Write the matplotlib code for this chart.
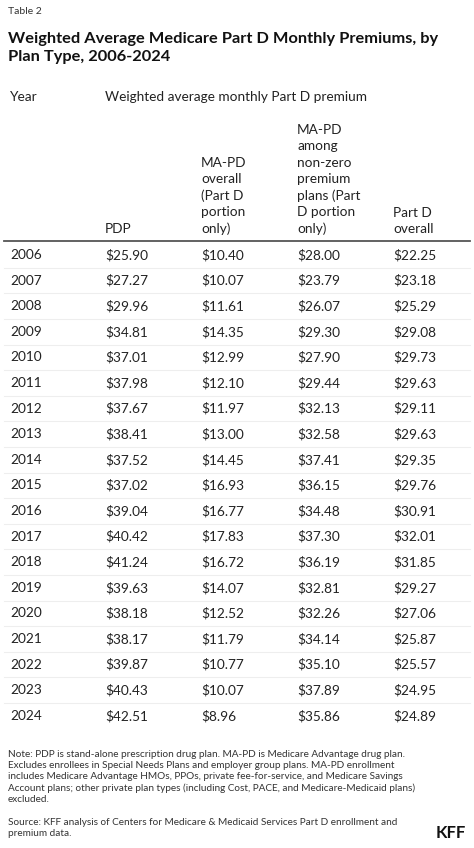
import matplotlib
matplotlib.use("Agg")
import matplotlib.pyplot as plt
from matplotlib.lines import Line2D

years = list(range(2006, 2025))
pdp = ["$25.90","$27.27","$29.96","$34.81","$37.01","$37.98","$37.67","$38.41","$37.52","$37.02","$39.04","$40.42","$41.24","$39.63","$38.18","$38.17","$39.87","$40.43","$42.51"]
mapd = ["$10.40","$10.07","$11.61","$14.35","$12.99","$12.10","$11.97","$13.00","$14.45","$16.93","$16.77","$17.83","$16.72","$14.07","$12.52","$11.79","$10.77","$10.07","$8.96"]
mapd_nz = ["$28.00","$23.79","$26.07","$29.30","$27.90","$29.44","$32.13","$32.58","$37.41","$36.15","$34.48","$37.30","$36.19","$32.81","$32.26","$34.14","$35.10","$37.89","$35.86"]
partd = ["$22.25","$23.18","$25.29","$29.08","$29.73","$29.63","$29.11","$29.63","$29.35","$29.76","$30.91","$32.01","$31.85","$29.27","$27.06","$25.87","$25.57","$24.95","$24.89"]
col_headers = ["PDP", "MA-PD\noverall\n(Part D\nportion\nonly)",
               "MA-PD\namong\nnon-zero\npremium\nplans (Part\nD portion\nonly)", "Part D\noverall"]

plt.rcParams['font.family'] = ['Lato', 'DejaVu Sans']
W, H = 474, 848
fig = plt.figure(figsize=(W/100, H/100), dpi=100)
fig.patch.set_facecolor('white')

def T(x, y, s, **kw):
    fig.text(x/W, 1 - y/H, s, **kw)

def L(x0, x1, y, c, lw):
    fig.add_artist(Line2D([x0/W, x1/W], [1-y/H, 1-y/H], color=c, lw=lw))

T(8, 11, "Table 2", fontsize=7.5, color='#333333', va='center')
T(8, 48, "Weighted Average Medicare Part D Monthly Premiums, by\nPlan Type, 2006-2024",
  fontsize=11.8, fontweight='bold', color='#111111', va='center', linespacing=1.3)
T(10, 97, "Year", fontsize=9.8, color='#222222', va='center')
T(105, 97, "Weighted average monthly Part D premium", fontsize=9.8, color='#222222', va='center')

xs = [105, 201, 297, 393]
for x, h in zip(xs, col_headers):
    T(x, 235, h, fontsize=9.8, color='#222222', va='bottom', linespacing=1.42)
L(4, 470, 241, '#555555', 1.3)

y0, dy = 255, 25.6
for i, yr in enumerate(years):
    y = y0 + i*dy
    T(10, y, str(yr), fontsize=9.8, color='#222222', va='center')
    for x, v in zip(xs, [pdp[i], mapd[i], mapd_nz[i], partd[i]]):
        T(x, y, v, fontsize=9.8, color='#222222', va='center')
    if i < len(years) - 1:
        L(4, 470, y + dy/2, '#eeeeee', 0.8)

note = ("Note: PDP is stand-alone prescription drug plan. MA-PD is Medicare Advantage drug plan.\n"
        "Excludes enrollees in Special Needs Plans and employer group plans. MA-PD enrollment\n"
        "includes Medicare Advantage HMOs, PPOs, private fee-for-service, and Medicare Savings\n"
        "Account plans; other private plan types (including Cost, PACE, and Medicare-Medicaid plans)\n"
        "excluded.")
T(8, 750, note, fontsize=7.2, color='#333333', va='top', linespacing=1.3)
T(8, 818, "Source: KFF analysis of Centers for Medicare & Medicaid Services Part D enrollment and\npremium data.",
  fontsize=7.2, color='#333333', va='top', linespacing=1.3)
T(466, 833, "KFF", fontsize=12, fontweight='bold', color='#111111', va='center', ha='right')

fig.savefig("out.png", dpi=100)
